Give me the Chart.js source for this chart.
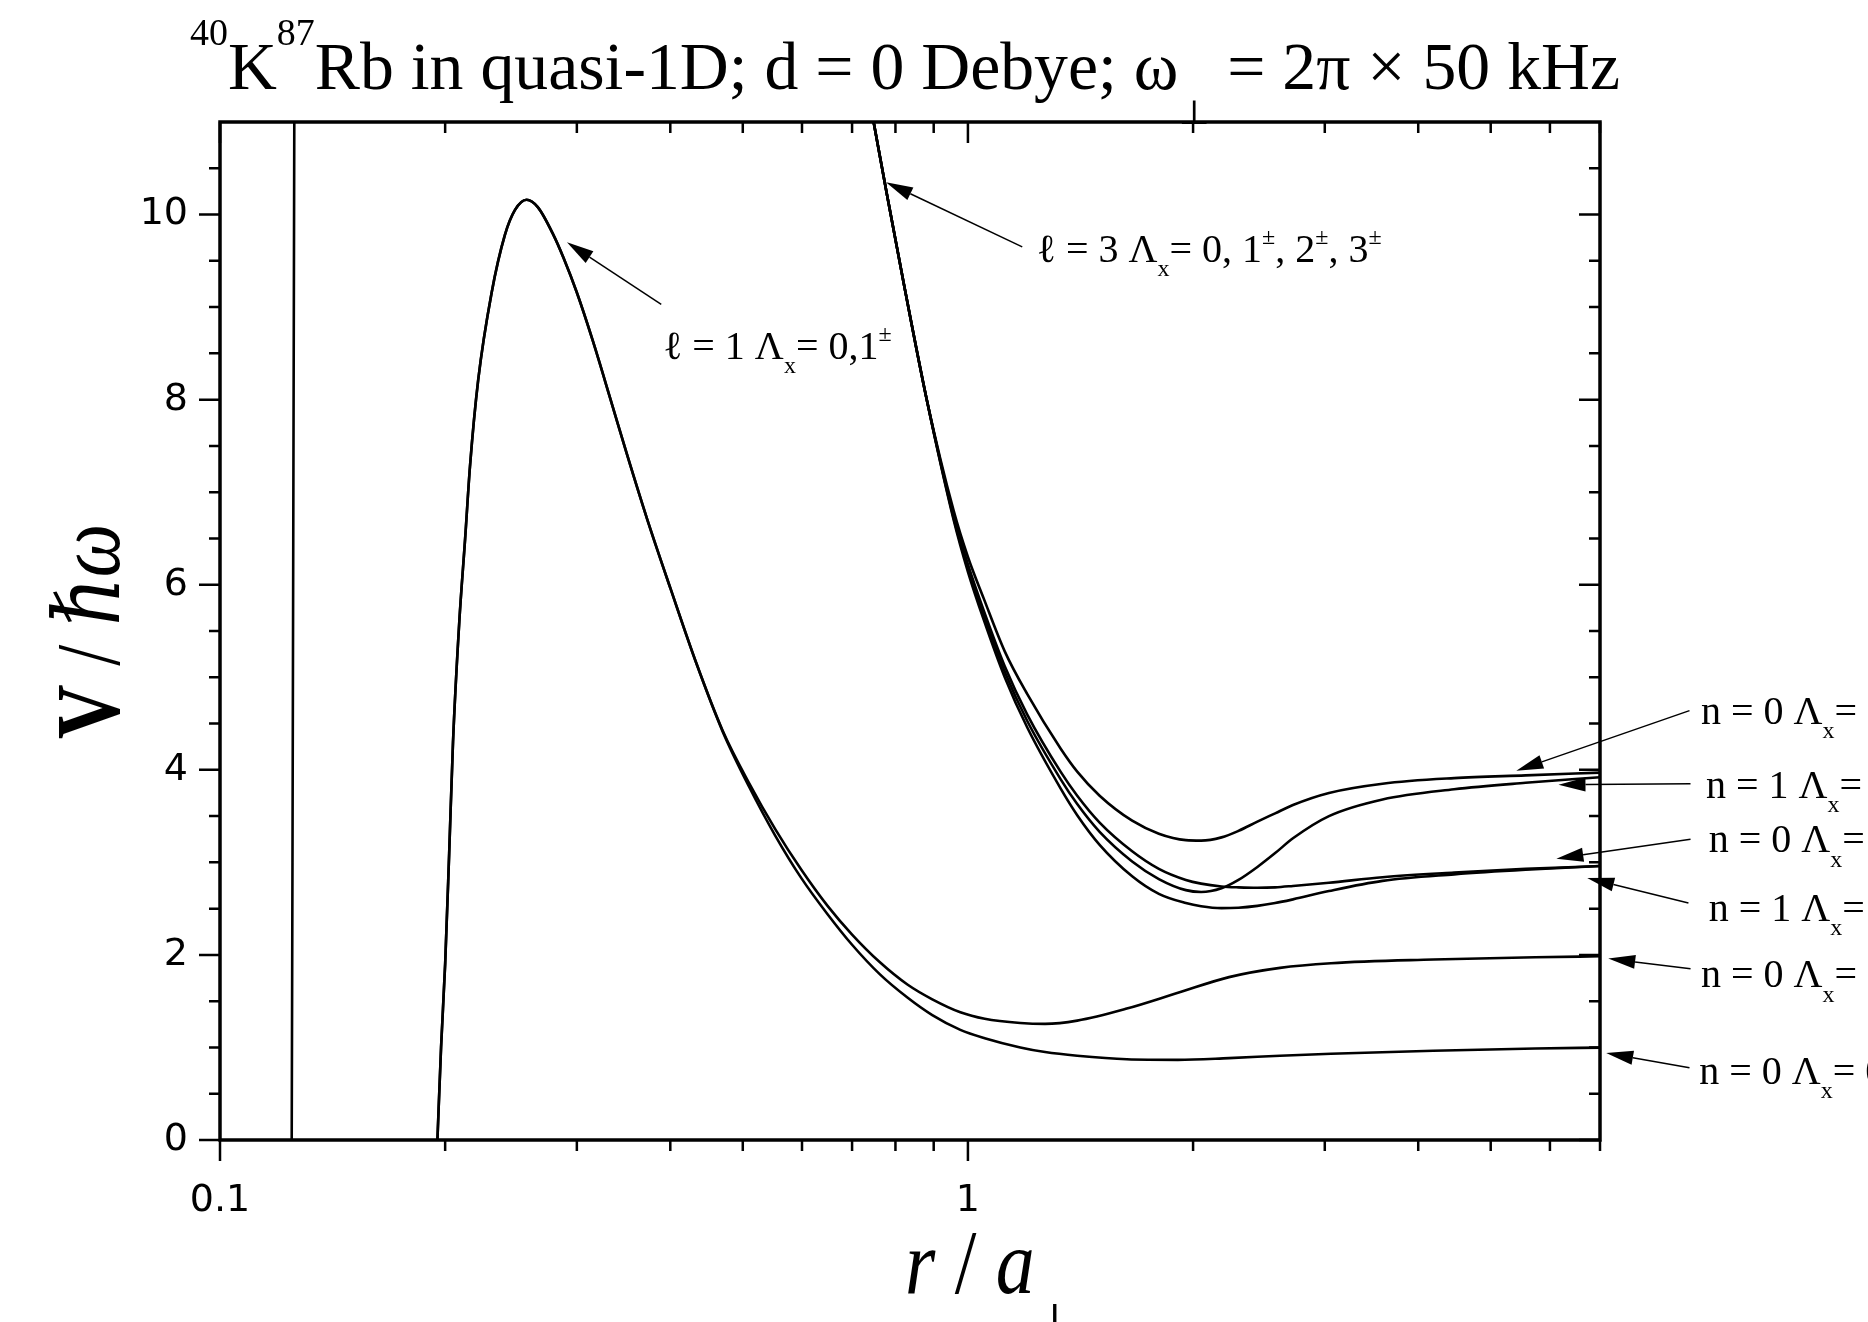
<!DOCTYPE html>
<html lang="en">
<head>
<meta charset="UTF-8" />
<title>40K87Rb quasi-1D potentials</title>
<script src="https://cdn.jsdelivr.net/npm/chart.js"></script>
<style>
  html, body { margin: 0; padding: 0; background: #fff; }
  #wrap { width: 1868px; height: 1322px; position: relative; }
</style>
</head>
<body>
<div id="wrap"><canvas id="potChart"></canvas></div>
<script>
// r / a_perp (x) and V / hbar omega (y)

// inner wall near r = 0.125
const rWall = [0.1247, 0.1250, 0.1253, 0.1257];
const vWall = [0, 3, 6.5, 11];

// l = 1 curves (Lambda_x = 0 and 1±), identical up to r ~ 0.47
const rL1 = [0.1953, 0.1975, 0.2000, 0.2025, 0.2049, 0.2089, 0.2127, 0.2159, 0.2214, 0.2307,
             0.2404, 0.2480, 0.2570, 0.2660, 0.2791, 0.2880, 0.2999, 0.3150, 0.3323, 0.3500,
             0.3721, 0.4002, 0.4339, 0.4702, 0.5096, 0.5525, 0.5988, 0.6491, 0.70, 0.7627,
             0.83, 0.8961, 0.977, 1.053, 1.175, 1.268, 1.40, 1.631, 1.909, 2.234,
             2.614, 3.058, 4.19, 5.735, 7.0];
const vL1up = [0, 1.0, 1.9, 3.1, 4.3, 5.6, 6.5, 7.28, 8.21, 9.15,
               9.78, 10.05, 10.16, 10.08, 9.78, 9.53, 9.16, 8.64, 8.02, 7.41,
               6.72, 5.96, 5.14, 4.42, 3.86, 3.36, 2.92, 2.53, 2.22, 1.92,
               1.68, 1.52, 1.38, 1.31, 1.265, 1.255, 1.29, 1.42, 1.59, 1.76,
               1.86, 1.91, 1.95, 1.975, 1.985];
const vL1lo = [0, 1.0, 1.9, 3.1, 4.3, 5.6, 6.5, 7.28, 8.21, 9.15,
               9.78, 10.05, 10.16, 10.08, 9.78, 9.53, 9.16, 8.64, 8.02, 7.41,
               6.72, 5.96, 5.14, 4.41, 3.82, 3.29, 2.83, 2.44, 2.11, 1.79,
               1.54, 1.35, 1.19, 1.10, 1.00, 0.95, 0.91, 0.872, 0.866, 0.885,
               0.91, 0.932, 0.965, 0.988, 0.998];

// l = 3 curves (Lambda_x = 0, 1±, 2±, 3±)
const rL3 = [0.748, 0.780, 0.821, 0.882, 0.957, 1.00, 1.05, 1.12, 1.20, 1.33,
             1.40, 1.50, 1.658, 1.80, 1.956, 2.05, 2.183, 2.30, 2.438, 2.575,
             2.72, 3.039, 3.584, 4.467, 5.566, 7.0];
const vL3a = [11.0, 10.2, 9.25, 7.98, 6.80, 6.30, 5.85, 5.28, 4.82, 4.23,
              3.98, 3.72, 3.45, 3.31, 3.24, 3.235, 3.27, 3.34, 3.44, 3.53,
              3.62, 3.75, 3.85, 3.91, 3.94, 3.97];
const vL3b = [11.0, 10.2, 9.25, 7.98, 6.72, 6.18, 5.67, 5.06, 4.53, 3.90,
              3.63, 3.33, 3.01, 2.82, 2.70, 2.68, 2.72, 2.81, 2.95, 3.10,
              3.26, 3.50, 3.68, 3.79, 3.86, 3.92];
const vL3c = [11.0, 10.2, 9.25, 7.98, 6.75, 6.22, 5.72, 5.12, 4.60, 3.98,
              3.72, 3.43, 3.12, 2.93, 2.81, 2.77, 2.74, 2.73, 2.725, 2.73,
              2.745, 2.78, 2.84, 2.89, 2.93, 2.96];
const vL3d = [11.0, 10.2, 9.25, 7.98, 6.70, 6.14, 5.62, 5.00, 4.46, 3.80,
              3.51, 3.19, 2.85, 2.66, 2.56, 2.525, 2.505, 2.51, 2.53, 2.56,
              2.60, 2.69, 2.80, 2.87, 2.92, 2.96];

// axis ticks
const xMajor = [0.1, 1];
const xMinor = [0.2, 0.3, 0.4, 0.5, 0.6, 0.7, 0.8, 0.9, 2, 3, 4, 5, 6, 7];
const yMajor = [0, 2, 4, 6, 8, 10];
const yMinor = [0.5, 1, 1.5, 2.5, 3, 3.5, 4.5, 5, 5.5, 6.5, 7, 7.5, 8.5, 9, 9.5, 10.5];

const SERIF = '"Liberation Serif", "Times New Roman", "DejaVu Serif", serif';

function pts(xs, ys) {
  return xs.map((x, i) => ({ x: x, y: ys[i] }));
}

function curve(xs, ys, smooth) {
  return {
    data: pts(xs, ys),
    borderColor: '#000',
    borderWidth: 2.6,
    pointRadius: 0,
    fill: false,
    cubicInterpolationMode: smooth ? 'monotone' : 'default',
    tension: 0
  };
}

// labels with arrows, anchored in data coordinates
const notes = [
  { parts: [{ t: 'ℓ = 1 Λ' }, { t: 'x', k: 'sub' }, { t: '= 0,1' }, { t: '±', k: 'sup' }],
    at: [0.3913, 8.44], size: 40, tail: [0.389, 9.03], tip: [0.291, 9.70] },
  { parts: [{ t: 'ℓ = 3 Λ' }, { t: 'x', k: 'sub' }, { t: '= 0, 1' }, { t: '±', k: 'sup' }, { t: ', 2' }, { t: '±', k: 'sup' }, { t: ', 3' }, { t: '±', k: 'sup' }],
    at: [1.236, 9.49], size: 40, tail: [1.182, 9.65], tip: [0.777, 10.35] },
  { parts: [{ t: 'n = 0 Λ' }, { t: 'x', k: 'sub' }, { t: '= 3' }],
    at: [9.55, 4.50], size: 40, tail: [9.22, 4.64], tip: [5.41, 3.99] },
  { parts: [{ t: 'n = 1 Λ' }, { t: 'x', k: 'sub' }, { t: '= 2' }],
    at: [9.70, 3.70], size: 40, tail: [9.25, 3.85], tip: [6.16, 3.84] },
  { parts: [{ t: 'n = 0 Λ' }, { t: 'x', k: 'sub' }, { t: '= 2' }],
    at: [9.78, 3.11], size: 40, tail: [9.25, 3.25], tip: [6.12, 3.04] },
  { parts: [{ t: 'n = 1 Λ' }, { t: 'x', k: 'sub' }, { t: '= 1' }],
    at: [9.78, 2.37], size: 40, tail: [9.19, 2.56], tip: [6.73, 2.83] },
  { parts: [{ t: 'n = 0 Λ' }, { t: 'x', k: 'sub' }, { t: '= 1' }],
    at: [9.55, 1.65], size: 40, tail: [9.25, 1.85], tip: [7.18, 1.96] },
  { parts: [{ t: 'n = 0 Λ' }, { t: 'x', k: 'sub' }, { t: '= 0' }],
    at: [9.50, 0.61], size: 40, tail: [9.22, 0.78], tip: [7.135, 0.94] }
];

function fontFor(p, o) {
  const sz = p.k ? o.size * (p.s || 0.6) : o.size;
  const it = (p.i || o.italic) ? 'italic ' : '';
  const b = p.b ? 'bold ' : '';
  return it + b + sz + 'px ' + o.family;
}

// draws a run of text pieces with sub/superscripts
function drawRich(ctx, x, y, parts, o) {
  ctx.save();
  let w = 0;
  parts.forEach(p => { ctx.font = fontFor(p, o); w += ctx.measureText(p.t).width; });
  const sx = o.width ? o.width / w : 1;
  ctx.translate(x, y);
  if (o.rotate) ctx.rotate(o.rotate);
  ctx.scale(sx, 1);
  ctx.textAlign = 'left';
  ctx.textBaseline = 'alphabetic';
  ctx.fillStyle = '#000';
  let cx = o.align === 'center' ? -w / 2 : 0;
  parts.forEach(p => {
    ctx.font = fontFor(p, o);
    let dy = 0;
    if (p.dy !== undefined) dy = p.dy * o.size;
    else if (p.k === 'sup') dy = -0.45 * o.size;
    else if (p.k === 'sub') dy = 0.36 * o.size;
    ctx.fillText(p.t, cx, dy);
    cx += ctx.measureText(p.t).width;
  });
  ctx.restore();
}

function arrow(ctx, x0, y0, x1, y1) {
  const a = Math.atan2(y1 - y0, x1 - x0);
  const L = 27, W = 7;
  const bx = x1 - L * Math.cos(a), by = y1 - L * Math.sin(a);
  ctx.beginPath();
  ctx.moveTo(x0, y0);
  ctx.lineTo(bx, by);
  ctx.stroke();
  ctx.beginPath();
  ctx.moveTo(x1, y1);
  ctx.lineTo(bx + W * Math.sin(a), by - W * Math.cos(a));
  ctx.lineTo(bx - W * Math.sin(a), by + W * Math.cos(a));
  ctx.closePath();
  ctx.fill();
}

// axis box with inner/outer ticks, titles and notes
const frame = {
  id: 'frame',
  afterDatasetsDraw(chart) {
    const { ctx, chartArea: a, scales: { x, y } } = chart;
    ctx.save();
    ctx.strokeStyle = '#000';
    ctx.lineWidth = 2.5;
    ctx.beginPath();
    xMajor.forEach(v => {
      const px = x.getPixelForValue(v);
      ctx.moveTo(px, a.bottom); ctx.lineTo(px, a.bottom + 21);
      ctx.moveTo(px, a.top); ctx.lineTo(px, a.top + 21);
    });
    xMinor.forEach(v => {
      const px = x.getPixelForValue(v);
      ctx.moveTo(px, a.bottom); ctx.lineTo(px, a.bottom + 11);
      ctx.moveTo(px, a.top); ctx.lineTo(px, a.top + 11);
    });
    yMajor.forEach(v => {
      const py = y.getPixelForValue(v);
      ctx.moveTo(a.left - 21, py); ctx.lineTo(a.left, py);
      ctx.moveTo(a.right - 21, py); ctx.lineTo(a.right, py);
    });
    yMinor.forEach(v => {
      const py = y.getPixelForValue(v);
      ctx.moveTo(a.left - 11, py); ctx.lineTo(a.left, py);
      ctx.moveTo(a.right - 11, py); ctx.lineTo(a.right, py);
    });
    ctx.stroke();
    ctx.lineWidth = 3.5;
    ctx.strokeRect(a.left, a.top, a.right - a.left, a.bottom - a.top);
    ctx.restore();
  },
  afterDraw(chart) {
    const { ctx, scales: { x, y } } = chart;
    ctx.save();
    // title
    drawRich(ctx, 905, 89, [
      { t: '40', k: 'sup', s: 0.56, dy: -0.64 },
      { t: 'K' },
      { t: '87', k: 'sup', s: 0.56, dy: -0.64 },
      { t: 'Rb in quasi-1D; d = 0 Debye; ω' },
      { t: '⊥', k: 'sub', s: 0.5, dy: 0.52 },
      { t: ' = 2π × 50 kHz' }
    ], { size: 68, family: SERIF, align: 'center', width: 1430 });
    // x axis title
    drawRich(ctx, 905, 1293, [
      { t: 'r', i: true }, { t: ' / ' }, { t: 'a', i: true },
      { t: '⊥', k: 'sub', s: 0.55, dy: 0.5 }
    ], { size: 90, family: SERIF, width: 170 });
    // y axis title
    drawRich(ctx, 119, 739, [
      { t: 'V', b: true }, { t: ' / ' }, { t: 'ℏω', i: true }
    ], { size: 92, family: SERIF, width: 215, rotate: -Math.PI / 2 });

    // annotations
    ctx.strokeStyle = '#000';
    ctx.fillStyle = '#000';
    ctx.lineWidth = 1.5;
    notes.forEach(n => {
      arrow(ctx,
        x.getPixelForValue(n.tail[0]), y.getPixelForValue(n.tail[1]),
        x.getPixelForValue(n.tip[0]), y.getPixelForValue(n.tip[1]));
      drawRich(ctx, x.getPixelForValue(n.at[0]), y.getPixelForValue(n.at[1]), n.parts,
        { size: n.size, family: SERIF });
    });
    ctx.restore();
  }
};

const tickFont = { family: '"DejaVu Sans", Arial, sans-serif', size: 38 };

new Chart(document.getElementById('potChart'), {
  type: 'line',
  data: {
    datasets: [
      curve(rWall, vWall, false),
      curve(rL1, vL1up, true),
      curve(rL1, vL1lo, true),
      curve(rL3, vL3a, true),
      curve(rL3, vL3b, true),
      curve(rL3, vL3c, true),
      curve(rL3, vL3d, true)
    ]
  },
  options: {
    responsive: true,
    maintainAspectRatio: false,
    animation: false,
    layout: { padding: { left: 0, right: 268, top: 122, bottom: 0 } },
    plugins: {
      legend: { display: false },
      tooltip: { enabled: false },
      title: { display: false }
    },
    scales: {
      x: {
        type: 'logarithmic',
        min: 0.1,
        max: 7,
        grid: { display: false },
        border: { display: false },
        ticks: {
          autoSkip: false,
          maxRotation: 0,
          padding: 30,
          color: '#000',
          font: tickFont,
          callback: v => {
            if (Math.abs(v - 0.1) < 1e-9) return '0.1';
            if (Math.abs(v - 1) < 1e-9) return '1';
            return '';
          }
        },
        afterFit: s => { s.height = 182; }
      },
      y: {
        min: 0,
        max: 11,
        grid: { display: false },
        border: { display: false },
        ticks: {
          stepSize: 2,
          includeBounds: false,
          padding: 24,
          color: '#000',
          font: tickFont
        },
        afterFit: s => { s.width = 220; }
      }
    }
  },
  plugins: [frame]
});
</script>
</body>
</html>
